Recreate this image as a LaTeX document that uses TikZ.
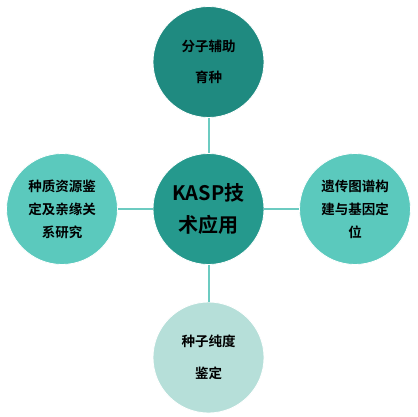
\documentclass[tikz,border=0pt]{standalone}
\usepackage{fontspec}
\newfontfamily\cjk{Noto Sans CJK SC}[BoldFont={Noto Sans CJK SC Bold}]
\definecolor{cTop}{HTML}{1F8A80}
\definecolor{cMid}{HTML}{25998D}
\definecolor{cSide}{HTML}{5BC9BD}
\definecolor{cBot}{HTML}{B6DFD9}
\definecolor{cLine}{HTML}{6CCBC1}
\begin{document}
\begin{tikzpicture}[x=1pt,y=-1pt,
  bubble/.style={circle,draw=white,line width=0.8pt,minimum size=111pt,inner sep=0pt,align=center,font=\cjk\bfseries\fontsize{13.5}{31}\selectfont},
  link/.style={draw=cLine,line width=2pt}]
\useasboundingbox (0,0) rectangle (417,417);
\fill[white] (0,0) rectangle (417,417);
\node[bubble,fill=cTop] (top) at (208.5,62) {分子辅助\\育种};
\node[bubble,fill=cMid,font=\cjk\bfseries\fontsize{20}{32}\selectfont] (mid) at (208.5,209) {KASP技\\术应用};
\node[bubble,fill=cSide,font=\cjk\bfseries\fontsize{13.5}{23}\selectfont] (left) at (62,209) {种质资源鉴\\定及亲缘关\\系研究};
\node[bubble,fill=cSide,font=\cjk\bfseries\fontsize{13.5}{23}\selectfont] (right) at (355,209) {遗传图谱构\\建与基因定\\位};
\node[bubble,fill=cBot,font=\cjk\bfseries\fontsize{13.5}{32}\selectfont] (bot) at (208.5,357.5) {种子纯度\\鉴定};
\draw[link] (top) -- (mid);
\draw[link] (left) -- (mid);
\draw[link] (mid) -- (right);
\draw[link] (mid) -- (bot);
\end{tikzpicture}
\end{document}
